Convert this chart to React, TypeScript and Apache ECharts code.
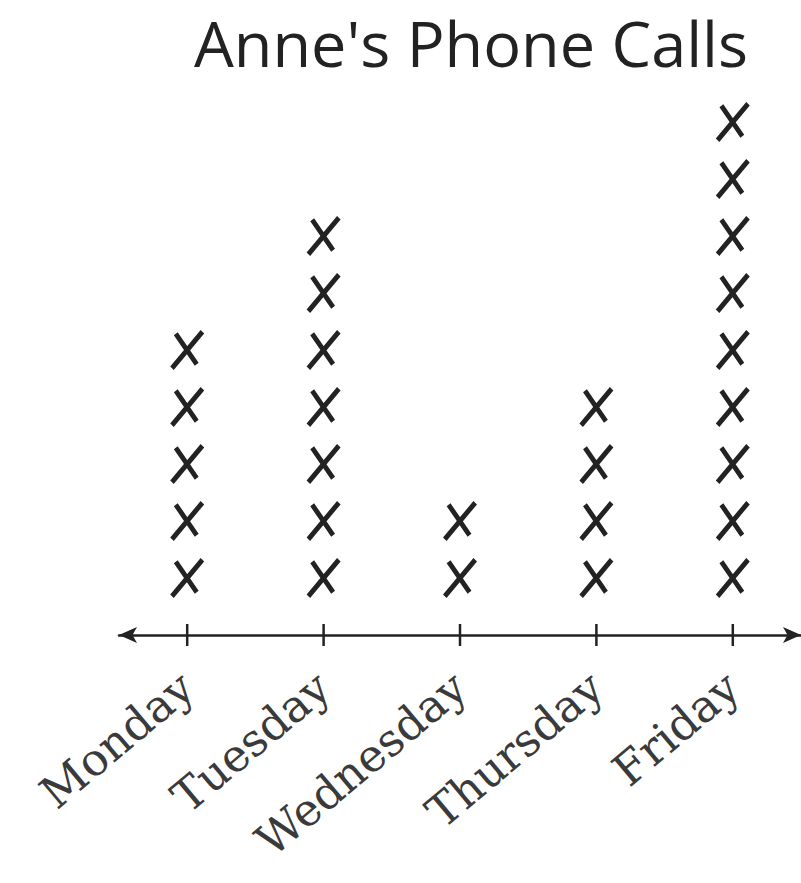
import React, { useEffect, useRef } from "react";
import * as echarts from "echarts";

const days = ["Monday", "Tuesday", "Wednesday", "Thursday", "Friday"];
const callCounts = [5, 7, 2, 4, 9];
const titleText = "Anne's Phone Calls";

const X_PATH =
  "path://M5.87,39.66L37.87,3.66L34.13,0.34L2.13,36.34ZM5.98,5.48L27.98,35.48L32.02,32.52L10.02,2.52Z";

export default function App() {
  const ref = useRef<HTMLDivElement>(null);
  useEffect(() => {
    if (!ref.current) return;
    const chart = echarts.init(ref.current, undefined, { renderer: "svg" });
    const marks: [number, number][] = [];
    days.forEach((_, i) => {
      for (let k = 1; k <= callCounts[i]; k++) marks.push([i, k]);
    });
    const ticks = days.map((_, i) => [i, 0]);
    chart.setOption({
      animation: false,
      backgroundColor: "#ffffff",
      title: {
        text: titleText,
        left: 466,
        top: 6,
        textAlign: "center",
        textStyle: {
          fontFamily: "Open Sans",
          fontSize: 63,
          fontWeight: "normal",
          color: "#222",
        },
      },
      grid: { left: 119, width: 683, top: 65, bottom: 248 },
      xAxis: {
        type: "category",
        data: days,
        boundaryGap: true,
        axisLine: {
          show: true,
          symbol: ["arrow", "arrow"],
          symbolSize: [12, 18],
          lineStyle: { color: "#222", width: 2.5 },
        },
        axisTick: { show: false },
        axisLabel: {
          rotate: 40,
          margin: 46,
          fontSize: 45,
          fontFamily: "DejaVu Serif",
          color: "#3a3a3a",
          interval: 0,
        },
        splitLine: { show: false },
      },
      yAxis: {
        type: "value",
        min: 0,
        max: 10,
        show: false,
      },
      series: [
        {
          type: "scatter",
          data: marks,
          symbol: X_PATH,
          symbolSize: [34, 40],
          itemStyle: { color: "#222", opacity: 1 },
          silent: true,
        },
        {
          type: "scatter",
          data: ticks,
          symbol: "rect",
          symbolSize: [2.5, 22],
          itemStyle: { color: "#222", opacity: 1 },
          silent: true,
        },
      ],
    });
    return () => chart.dispose();
  }, []);
  return (
    <div
      ref={ref}
      style={{ position: "absolute", left: 0, top: 0, width: 801, height: 883 }}
    />
  );
}
